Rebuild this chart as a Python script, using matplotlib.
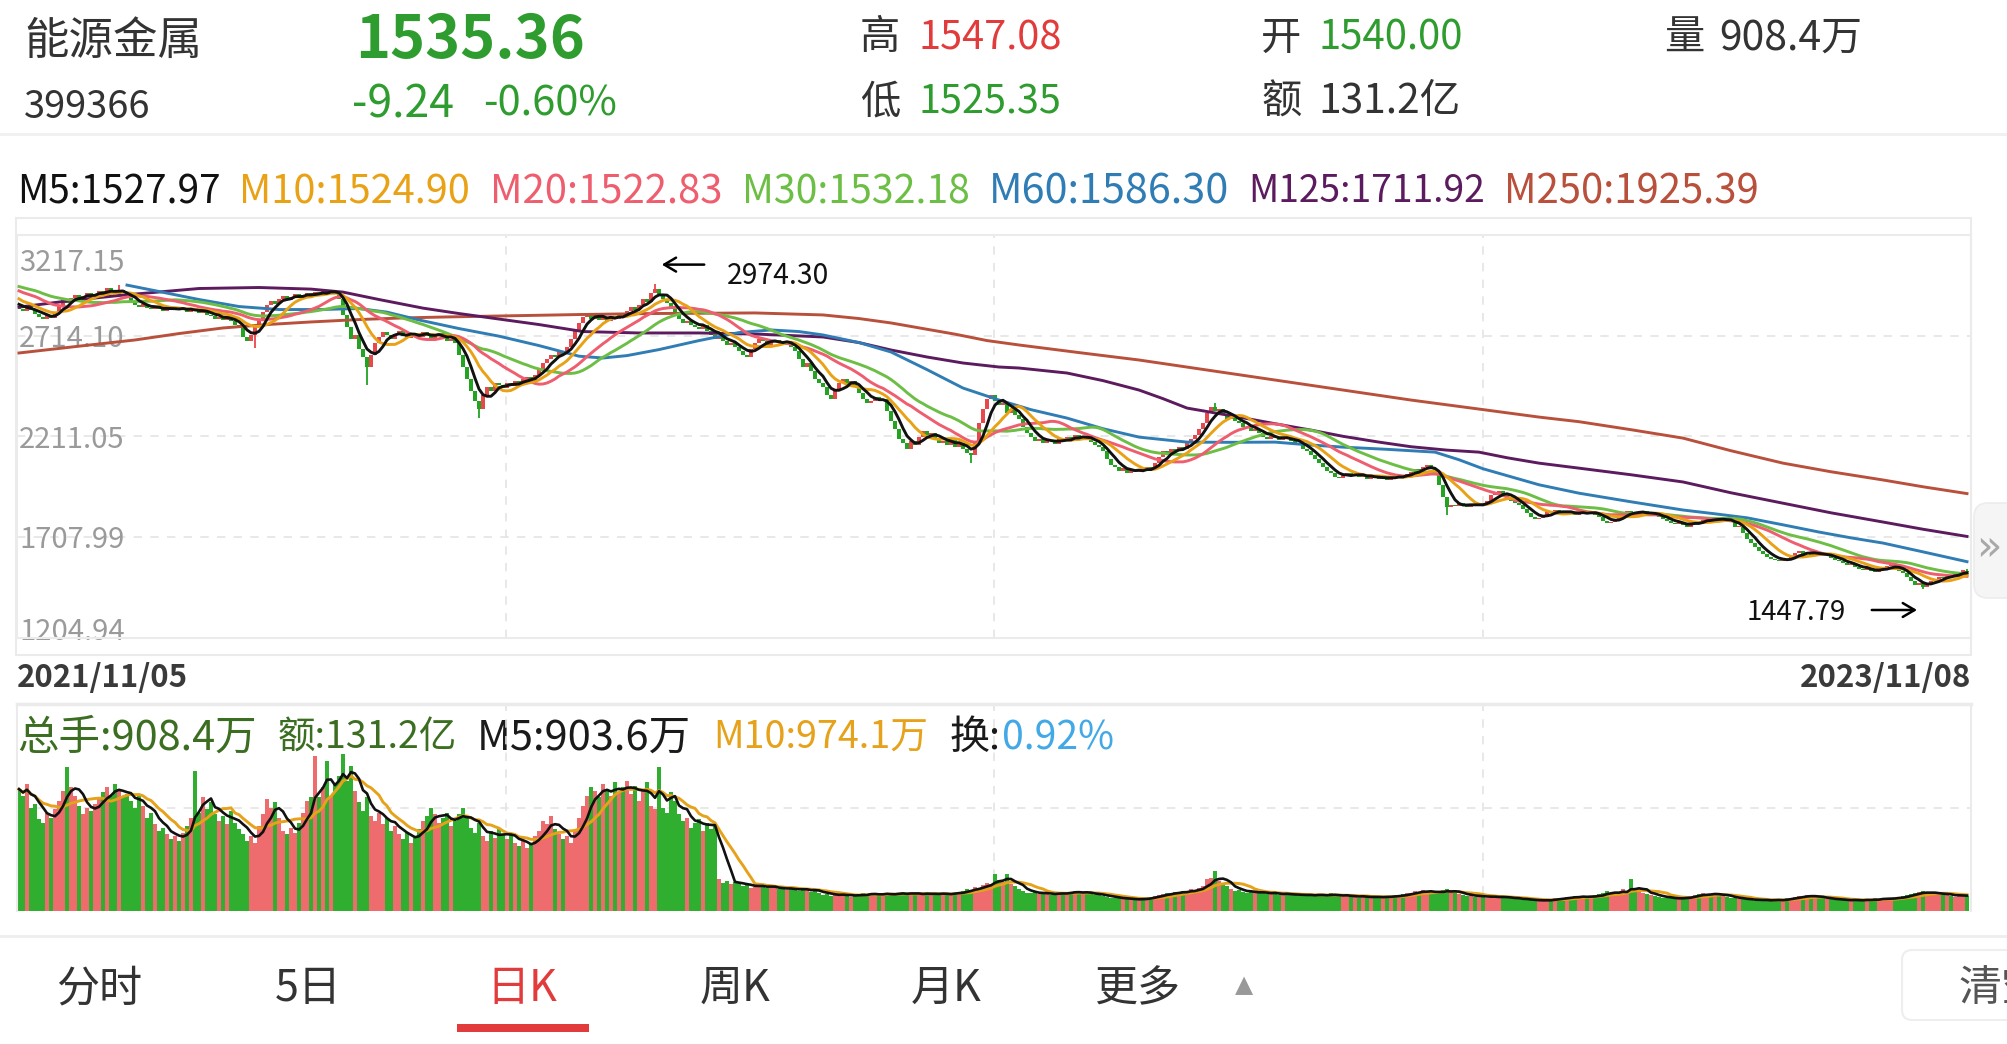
import numpy as np
import pandas as pd
import matplotlib
matplotlib.use('Agg')
import matplotlib.pyplot as plt
from matplotlib.patches import Rectangle, FancyBboxPatch

W, H = 2007, 1044
CJK = 'Noto Sans CJK SC'
plt.rcParams['font.family'] = [CJK, 'DejaVu Sans']

RED = '#E23B3B'
GREEN = '#2E9C2E'
C_UP = '#E8474C'
C_DN = '#22A322'
V_UP = '#EE6B6E'
V_DN = '#2FAE2F'

# ---- daily closes before the window (only used to warm up M5..M30)
pre_closes = [2980, 3000, 3020, 2990, 2970, 3010, 3040, 3030, 3000, 2980,
              2990, 3010, 2995, 2970, 2960, 2985, 3005, 2990, 2975, 2950,
              2940, 2960, 2935, 2910, 2925, 2900, 2880, 2895, 2870, 2860]

# ---- daily closes 2021/11/05 .. 2023/11/08
closes = [
    2850, 2838, 2862, 2845, 2825, 2810, 2796, 2820, 2805, 2835,
    2870, 2895, 2880, 2905, 2920, 2898, 2915, 2930, 2912, 2925,
    2940, 2925, 2955, 2938, 2920, 2945, 2930, 2905, 2885, 2870,
    2860, 2872, 2855, 2848, 2862, 2850, 2838, 2855, 2845, 2858,
    2842, 2850, 2835, 2848, 2840, 2830, 2845, 2820, 2812, 2800,
    2808, 2795, 2812, 2790, 2770, 2755, 2710, 2690, 2720, 2760,
    2800, 2835, 2870, 2890, 2875, 2900, 2915, 2895, 2910, 2925,
    2905, 2918, 2930, 2912, 2935, 2920, 2940, 2925, 2945, 2935,
    2900, 2820, 2760, 2700, 2720, 2650, 2610, 2560, 2620, 2680,
    2710, 2735, 2720, 2700, 2725, 2740, 2715, 2705, 2730, 2720,
    2710, 2735, 2720, 2700, 2715, 2730, 2705, 2690, 2700, 2680,
    2620, 2560, 2500, 2440, 2390, 2350, 2420, 2460, 2440, 2480,
    2470, 2455, 2480, 2465, 2490, 2475, 2500, 2510, 2495, 2520,
    2545, 2580, 2600, 2620, 2610, 2640, 2625, 2660, 2700, 2740,
    2780, 2810, 2830, 2800, 2820, 2795, 2810, 2790, 2815, 2800,
    2825, 2810, 2840, 2860, 2845, 2870, 2900, 2885, 2930, 2950,
    2925, 2900, 2880, 2850, 2820, 2800, 2780, 2790, 2770, 2760,
    2750, 2770, 2740, 2720, 2700, 2715, 2690, 2670, 2680, 2660,
    2640, 2620, 2610, 2650, 2680, 2700, 2690, 2670, 2685, 2695,
    2680, 2670, 2690, 2660, 2640, 2600, 2560, 2580, 2540, 2500,
    2480, 2460, 2420, 2400, 2450, 2480, 2500, 2470, 2490, 2460,
    2430, 2400, 2380, 2390, 2410, 2395, 2400, 2340, 2290, 2250,
    2200, 2180, 2150, 2190, 2170, 2210, 2240, 2220, 2230, 2200,
    2180, 2190, 2170, 2200, 2160, 2180, 2150, 2130, 2120, 2190,
    2280, 2350, 2400, 2420, 2390, 2370, 2380, 2330, 2350, 2320,
    2300, 2260, 2230, 2210, 2190, 2200, 2180, 2195, 2190, 2175,
    2200, 2190, 2210, 2195, 2220, 2205, 2215, 2200, 2185, 2170,
    2160, 2140, 2100, 2070, 2060, 2040, 2055, 2030, 2045, 2035,
    2050, 2040, 2060, 2045, 2080, 2110, 2140, 2130, 2150, 2140,
    2160, 2150, 2180, 2200, 2220, 2250, 2280, 2330, 2360, 2340,
    2350, 2320, 2300, 2310, 2290, 2280, 2260, 2255, 2240, 2250,
    2230, 2210, 2200, 2215, 2205, 2195, 2210, 2200, 2190, 2180,
    2170, 2150, 2140, 2120, 2100, 2080, 2060, 2040, 2030, 2010,
    2005, 2020, 2030, 2015, 2025, 2010, 2020, 2000, 2015, 2005,
    2000, 2010, 1995, 2015, 2005, 2020, 2010, 2025, 2035, 2050,
    2045, 2060, 2070, 2055, 2030, 1970, 1910, 1860, 1870, 1865,
    1880, 1870, 1860, 1875, 1865, 1880, 1870, 1890, 1920, 1930,
    1940, 1925, 1910, 1890, 1880, 1870, 1850, 1830, 1810, 1800,
    1805, 1820, 1840, 1830, 1845, 1835, 1825, 1840, 1830, 1820,
    1830, 1835, 1825, 1840, 1820, 1810, 1790, 1780, 1785, 1800,
    1815, 1830, 1840, 1835, 1825, 1830, 1840, 1820, 1830, 1815,
    1810, 1800, 1790, 1780, 1775, 1785, 1770, 1760, 1780, 1790,
    1785, 1795, 1800, 1790, 1805, 1795, 1800, 1790, 1785, 1760,
    1760, 1730, 1700, 1680, 1660, 1640, 1625, 1610, 1600, 1595,
    1590, 1600, 1595, 1610, 1630, 1640, 1625, 1635, 1620, 1630,
    1625, 1615, 1620, 1605, 1595, 1590, 1580, 1570, 1575, 1560,
    1550, 1545, 1555, 1540, 1535, 1545, 1560, 1565, 1570, 1555,
    1540, 1530, 1510, 1490, 1470, 1480, 1460, 1475, 1490, 1500,
    1510, 1505, 1520, 1515, 1525, 1530, 1544.60, 1535.36]

# ---- daily volume, 万手
volumes = [
    7300, 6900, 7600, 6200, 6400, 5500, 5300, 5900, 5600, 6100,
    6600, 7200, 8600, 7400, 6900, 6300, 5800, 6200, 6000, 6400,
    6800, 7100, 7400, 6900, 7600, 7300, 6800, 7000, 6600, 6200,
    6900, 6300, 5600, 5900, 5200, 4800, 5000, 4600, 4300, 4500,
    4200, 4700, 5100, 5600, 8400, 5900, 6800, 6100, 6500, 5800,
    5400, 5700, 5200, 6000, 5300, 4900, 4600, 4200, 4500, 4100,
    5100, 5800, 6700, 6200, 6500, 5600, 4800, 4600, 5000, 4700,
    5300, 5900, 6600, 6800, 9300, 6800, 7400, 9000, 6900, 7600,
    8100, 9400, 7800, 8700, 7200, 6500, 6000, 6800, 5700, 5400,
    5900, 5200, 5600, 4800, 5100, 4600, 4300, 4700, 4100, 4400,
    4900, 5400, 5700, 6200, 5800, 5300, 5600, 5900, 5100, 5400,
    5800, 6200, 5600, 5000, 4700, 5300, 4500, 4200, 4800, 4400,
    4900, 4600, 4300, 4700, 4100, 3900, 4200, 3800, 4000, 4500,
    4800, 5400, 5200, 5700, 4900, 4600, 4300, 4500, 4100, 4800,
    5600, 6300, 6900, 7400, 7200, 6800, 7600, 7300, 6900, 7700,
    7100, 7400, 7800, 7000, 7500, 6600, 7200, 7700, 6300, 6100,
    8600, 6200, 5900, 7100, 6600, 5800, 5400, 5600, 5000, 5300,
    5500, 4800, 5300, 4900, 5200, 1900, 1700, 1800, 1600, 1750,
    1650, 1500, 1550, 1400, 1450, 1600, 1500, 1350, 1400, 1450,
    1300, 1350, 1250, 1400, 1300, 1200, 1350, 1250, 1150, 1300,
    1100, 950, 1000, 900, 1050, 950, 1000, 900, 850, 950,
    1000, 1050, 950, 1100, 1000, 900, 1050, 1100, 1000, 950,
    1050, 1150, 1000, 1100, 950, 1050, 1000, 1100, 1050, 950,
    1000, 1100, 1050, 950, 1100, 1150, 1200, 1300, 1250, 1450,
    1400, 1550, 1700, 1600, 2200, 1850, 1750, 2200, 1600, 1500,
    1300, 1200, 1100, 1050, 1150, 1000, 1100, 1050, 950, 1000,
    1100, 1150, 1050, 1100, 1200, 1150, 1050, 1100, 1000, 950,
    1000, 900, 850, 800, 750, 800, 700, 750, 700, 650,
    700, 750, 800, 850, 900, 950, 1000, 1100, 1050, 1150,
    1100, 1200, 1150, 1300, 1250, 1400, 1500, 1900, 2000, 2400,
    1800, 1600, 1500, 1300, 1200, 1250, 1150, 1100, 1200, 1050,
    1100, 1150, 1000, 1050, 1100, 950, 1000, 1050, 950, 1000,
    900, 950, 1000, 950, 900, 1000, 950, 900, 1050, 950,
    900, 850, 950, 900, 850, 800, 900, 850, 800, 850,
    800, 850, 900, 850, 950, 900, 1000, 1050, 1100, 1200,
    1150, 1250, 1100, 1200, 1050, 1100, 1250, 1300, 1150, 1100,
    1000, 950, 900, 950, 850, 900, 850, 800, 900, 850,
    800, 850, 750, 800, 700, 750, 650, 700, 650, 600,
    650, 600, 700, 650, 750, 800, 750, 850, 800, 900,
    850, 900, 800, 850, 950, 1000, 1050, 1200, 1100, 1150,
    1000, 1300, 1150, 1900, 1200, 1250, 1100, 1000, 950, 900,
    850, 800, 750, 800, 700, 750, 800, 850, 900, 950,
    1000, 1050, 950, 1000, 1100, 950, 900, 850, 800, 750,
    700, 750, 650, 700, 600, 650, 700, 650, 600, 650,
    700, 650, 750, 800, 850, 900, 850, 950, 900, 850,
    800, 750, 700, 750, 650, 700, 650, 600, 650, 700,
    650, 600, 700, 650, 750, 700, 800, 750, 700, 800,
    850, 900, 950, 1000, 1100, 1150, 1200, 1050, 1000, 1100,
    1000, 1050, 950, 900, 850, 950, 1000, 908.4]

# long shadows that stick out of the bodies
wick_high = {25: 2967, 159: 2974.30, 299: 2378, 487: 1547.08}
wick_low = {59: 2653, 87: 2468, 115: 2303, 238: 2078, 357: 1819, 476: 1447.79, 487: 1525.35}
last_open = 1540.00

# long averages (day index, value)
m60_days = [27, 35, 45, 55, 65, 75, 85, 92, 100, 110, 120, 130, 140, 146, 152, 160, 170, 180,
            188, 195, 201, 210, 218, 227, 236, 245, 253, 262, 271, 280, 292, 303, 314, 322,
            331, 342, 354, 360, 366, 373, 380, 390, 403, 416, 424, 432, 441, 450, 458, 466,
            476, 487]
m60_vals = [2967, 2935, 2895, 2860, 2845, 2845, 2850, 2832, 2793, 2750, 2712, 2665, 2612, 2603,
            2615, 2645, 2690, 2730, 2743, 2735, 2718, 2680, 2633, 2545, 2453, 2393, 2345, 2303,
            2250, 2208, 2183, 2182, 2183, 2170, 2158, 2147, 2133, 2095, 2050, 2010, 1970, 1928,
            1885, 1844, 1825, 1805, 1770, 1734, 1705, 1679, 1635, 1586]
m125_days = [0, 13, 26, 45, 60, 73, 81, 90, 101, 110, 118, 130, 141, 155, 170, 185, 201, 210,
             218, 227, 236, 245, 250, 262, 271, 280, 286, 292, 305, 314, 323, 331, 340, 348,
             357, 365, 372, 380, 390, 403, 416, 428, 441, 453, 466, 476, 487]
m125_vals = [2857, 2890, 2917, 2950, 2955, 2947, 2932, 2895, 2852, 2825, 2803, 2770, 2735, 2728,
             2728, 2722, 2708, 2680, 2643, 2608, 2578, 2558, 2553, 2528, 2490, 2443, 2400, 2353,
             2308, 2275, 2243, 2212, 2183, 2160, 2143, 2133, 2105, 2078, 2053, 2020, 1984, 1930,
             1878, 1830, 1784, 1748, 1712]
m250_days = [0, 15, 29, 40, 51, 62, 73, 85, 96, 107, 118, 140, 158, 184, 201, 210, 218, 226,
             234, 242, 250, 265, 280, 297, 314, 331, 348, 365, 380, 390, 403, 416, 428, 441,
             453, 466, 476, 487]
m250_vals = [2628, 2662, 2693, 2725, 2753, 2770, 2783, 2795, 2803, 2808, 2812, 2820, 2825, 2828,
             2818, 2800, 2778, 2750, 2722, 2690, 2668, 2630, 2593, 2543, 2493, 2443, 2393, 2348,
             2308, 2285, 2245, 2203, 2140, 2078, 2035, 1994, 1960, 1926]

price_ticks = [3217.15, 2714.10, 2211.05, 1707.99, 1204.94]
ma_labels = ['M5:1527.97', 'M10:1524.90', 'M20:1522.83', 'M30:1532.18',
             'M60:1586.30', 'M125:1711.92', 'M250:1925.39']
ma_colors = ['#111111', '#E9A116', '#EE5E6E', '#6CBE45', '#2F7DB4', '#5C1B5E', '#B8503B']
ma_label_x = [17, 239, 490, 742, 989, 1248, 1504]
ma_label_w = [204, 231, 233, 228, 240, 237, 256]

assert len(closes) == len(volumes)
n = len(closes)
days = np.arange(n)
c = np.array(closes, dtype=float)
o = np.r_[pre_closes[-1], c[:-1]]
o[-1] = last_open
hi = np.maximum(o, c)
lo = np.minimum(o, c)
for d, v in wick_high.items():
    hi[d] = v
for d, v in wick_low.items():
    lo[d] = v
up = c >= o

allc = pd.Series(pre_closes + closes, dtype=float)
ma = {k: allc.rolling(k).mean().values[len(pre_closes):] for k in (5, 10, 20, 30)}
vol = pd.Series(volumes, dtype=float)
vma5 = vol.rolling(5, min_periods=1).mean()
vma10 = vol.rolling(10, min_periods=1).mean()

fig = plt.figure(figsize=(W / 100, H / 100), dpi=100)
fig.patch.set_facecolor('white')
renderer = fig.canvas.get_renderer()

# overlay in pixel coordinates for the app chrome and texts
ov = fig.add_axes([0, 0, 1, 1], zorder=0)
ov.set_xlim(0, W)
ov.set_ylim(H, 0)
ov.axis('off')

DY = 5  # Noto's line box sits a little high, nudge texts down


def put(x, y, s, size, color, ha='left', weight='normal', family=None, width=None, target=None):
    # width: stretch the font size so the text spans this many pixels
    kw = {'family': family} if family else {}
    if target is None:
        target = ov
        y = y + DY
    t = target.text(x, y, s, fontsize=size, color=color, ha=ha, va='center',
                    fontweight=weight, **kw)
    if width:
        w = t.get_window_extent(renderer).width
        t.set_fontsize(size * width / w)
    return t


# header
put(24, 36, '能源金属', 32, '#333333')
put(24, 102, '399366', 30, '#333333', width=127)
put(355, 36, '1535.36', 50, GREEN, weight='bold', width=230)
put(352, 99, '-9.24', 30, GREEN, width=102)
put(483, 99, '-0.60%', 30, GREEN, width=134)
put(860, 33, '高', 29, '#333333')
put(918, 33, '1547.08', 30, RED, width=143)
put(860, 97, '低', 29, '#333333')
put(918, 97, '1525.35', 30, GREEN, width=143)
put(1261, 33, '开', 29, '#333333')
put(1318, 33, '1540.00', 30, GREEN, width=145)
put(1261, 97, '额', 29, '#333333')
put(1318, 97, '131.2亿', 30, '#333333', width=142)
put(1664, 33, '量', 29, '#333333')
put(1719, 33, '908.4万', 30, '#333333', width=143)
ov.plot([0, W], [134, 134], color='#F0F0F0', lw=2)

# MA legend row
for s, col, x, w in zip(ma_labels, ma_colors, ma_label_x, ma_label_w):
    put(x, 187, s, 30, col, width=w)

# frame around the price panel
ov.add_patch(Rectangle((16, 218), 1955, 437, fill=False, ec='#EBEBEB', lw=1.5))

# dates under the price panel
put(17, 673, '2021/11/05', 28, '#3A3A3A', weight='bold', width=171)
put(1971, 673, '2023/11/08', 28, '#3A3A3A', ha='right', weight='bold', width=171)

# volume legend
put(17, 733, '总手:908.4万', 30, '#3C6E22', width=239)
put(278, 733, '额:131.2亿', 30, '#3C6E22', width=179)
put(477, 733, 'M5:903.6万', 30, '#1A1A1A', width=214)
put(713, 733, 'M10:974.1万', 30, '#E5A21A', width=215)
put(950, 733, '换:', 30, '#1A1A1A', width=51)
put(1002, 733, '0.92%', 30, '#42A9E6', width=112)

# right side "»" tab
ov.add_patch(FancyBboxPatch((1974, 503), 60, 95, boxstyle='round,pad=0,rounding_size=14',
                            fc='#F5F5F5', ec='#ECECEC', lw=1.2))
put(1989, 543, '»', 30, '#A8A8A8', ha='center', family='DejaVu Sans')

# bottom tabs
ov.plot([0, W], [936, 936], color='#EEEEEE', lw=2)
tabs = ['分时', '5日', '日K', '周K', '月K', '更多']
tab_x = [99, 308, 522, 735, 946, 1138]
for s, x in zip(tabs, tab_x):
    put(x, 984, s, 31, RED if s == '日K' else '#333333', ha='center')
put(1244, 980, '▲', 17, '#999999', ha='center', family='DejaVu Sans')
ov.add_patch(Rectangle((457, 1024), 132, 8, fc=RED, ec='none'))
ov.add_patch(FancyBboxPatch((1902, 950), 130, 70, boxstyle='round,pad=0,rounding_size=10',
                            fc='white', ec='#EEEEEE', lw=1.5))
put(1958, 984, '清空', 31, '#555555')

# ---- price panel
ax = fig.add_axes([17 / W, 1 - 638 / H, 1954 / W, 403 / H], zorder=2)
ax.set_facecolor('none')
ax.set_xlim(-0.5, n)
ax.set_ylim(price_ticks[-1], price_ticks[0])
ax.set_xticks([])
ax.set_yticks([])
for sp in ax.spines.values():
    sp.set_color('#EBEBEB')
    sp.set_linewidth(1.5)
grid_kw = dict(color='#E4E4E4', lw=1.2, ls=(0, (5, 5)), zorder=0)
for v in price_ticks[1:-1]:
    ax.axhline(v, **grid_kw)
x0, x1 = ax.get_xlim()
for f in (0.25, 0.5, 0.75):
    ax.axvline(x0 + f * (x1 - x0), **grid_kw)

ytr = ax.get_yaxis_transform()
lab_y = [3077, 2699, 2196, 1693, 1236]
t0 = ax.text(0.001, lab_y[0], f'{price_ticks[0]:.2f}', transform=ytr, fontsize=24,
             color='#9A9A9A', va='center', zorder=1)
lab_size = 24 * 105 / t0.get_window_extent(renderer).width
t0.set_fontsize(lab_size)
for v, yy in zip(price_ticks[1:], lab_y[1:]):
    ax.text(0.001, yy, f'{v:.2f}', transform=ytr, fontsize=lab_size, color='#9A9A9A',
            va='center', zorder=1)

cols = np.where(up, C_UP, C_DN)
ax.vlines(days, lo, hi, colors=cols, lw=1.3, zorder=2)
ax.bar(days, np.maximum(np.abs(c - o), 5), bottom=np.minimum(o, c),
       width=0.8, color=cols, lw=0, zorder=2)

ax.plot(m250_days, m250_vals, color=ma_colors[6], lw=2.1, zorder=3)
ax.plot(m125_days, m125_vals, color=ma_colors[5], lw=2.1, zorder=3)
ax.plot(m60_days, m60_vals, color=ma_colors[4], lw=2.1, zorder=3)
for k, col in zip((30, 20, 10, 5), (ma_colors[3], ma_colors[2], ma_colors[1], ma_colors[0])):
    ax.plot(days, ma[k], color=col, lw=2.1, zorder=4)

# max / min markers
imax = int(np.argmax(hi))
imin = int(np.argmin(lo))
akw = dict(arrowstyle='->,head_length=0.85,head_width=0.5', color='black', lw=1.8)
ax.annotate('', xy=(imax + 1, hi[imax] + 95), xytext=(imax + 13, hi[imax] + 95), arrowprops=akw)
put(imax + 18, hi[imax] + 38, f'{hi[imax]:.2f}', 24, '#111111', width=102, target=ax)
ax.annotate('', xy=(imin - 0.8, lo[imin] - 103), xytext=(imin - 13.5, lo[imin] - 103), arrowprops=akw)
put(imin - 19.2, lo[imin] - 115, f'{lo[imin]:.2f}', 24, '#111111', ha='right', width=99, target=ax)

# ---- volume panel
vax = fig.add_axes([17 / W, 1 - 911 / H, 1954 / W, 207 / H], zorder=2)
vax.set_facecolor('none')
vax.set_xlim(-0.5, n)
vax.set_ylim(0, 12400)
vax.set_xticks([])
vax.set_yticks([])
for name, sp in vax.spines.items():
    sp.set_color('#EBEBEB')
    sp.set_linewidth(1.5 if name != 'top' else 2.5)
vax.spines['bottom'].set_visible(False)
vax.axhline(6200, **grid_kw)
for f in (0.25, 0.5, 0.75):
    vax.axvline(x0 + f * (x1 - x0), **grid_kw)
vax.bar(days, volumes, width=0.8, color=np.where(up, V_UP, V_DN), lw=0, zorder=2)
vax.plot(days, vma10, color='#E5A21A', lw=2.1, zorder=3)
vax.plot(days, vma5, color='#111111', lw=1.9, zorder=3)

fig.savefig('out.png', dpi=100, facecolor='white')
